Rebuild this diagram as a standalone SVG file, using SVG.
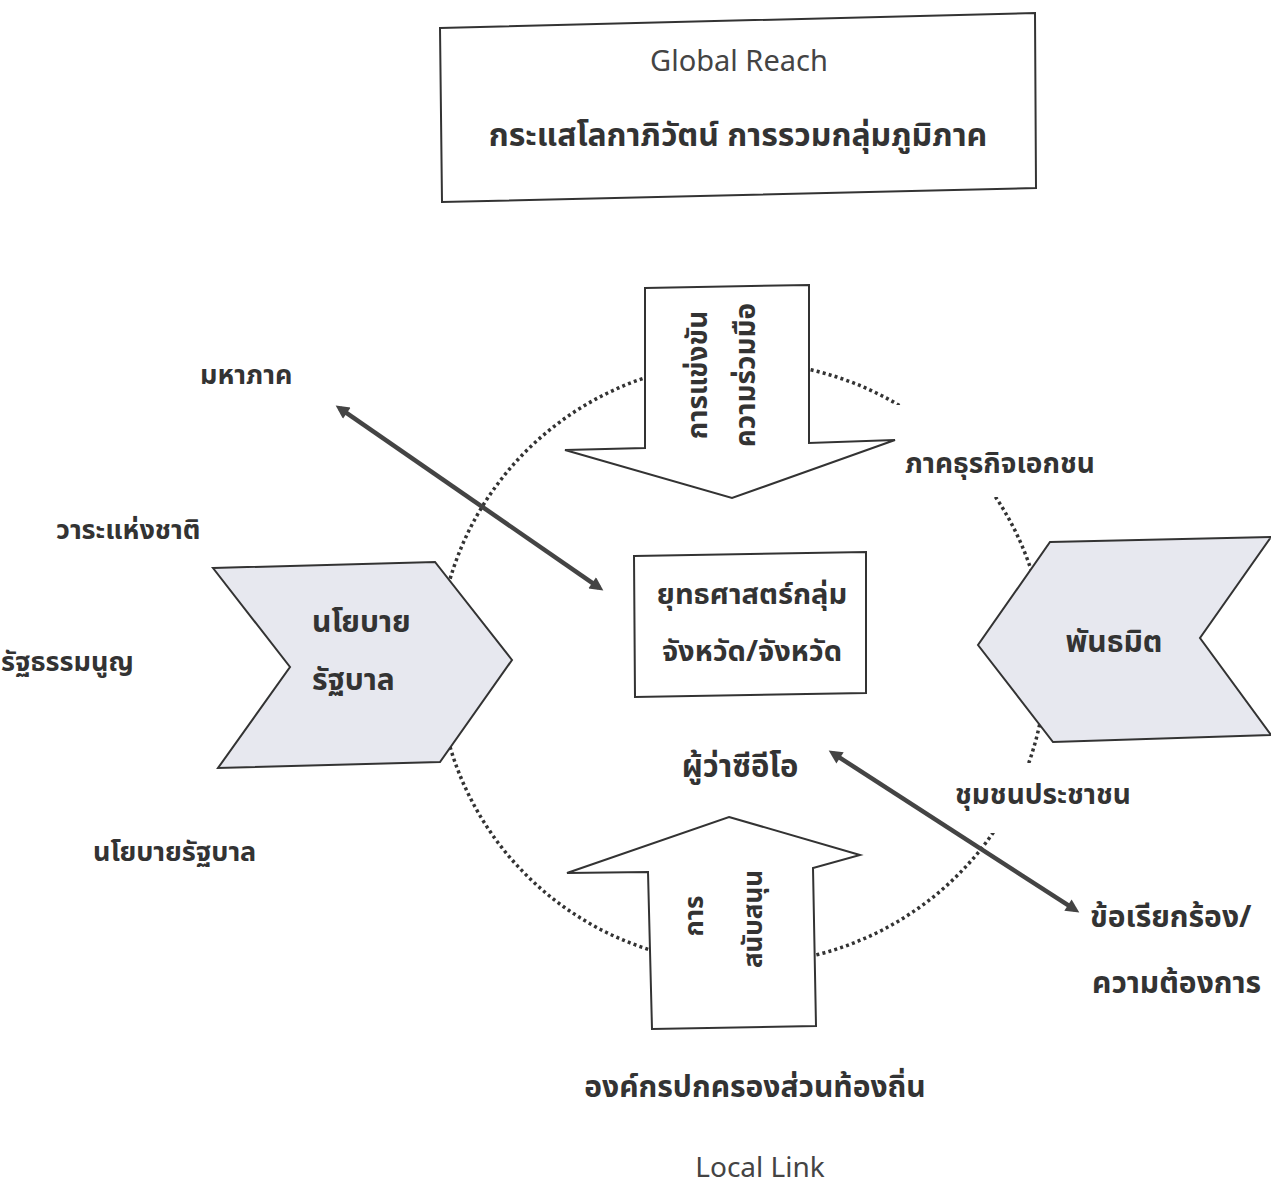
<svg xmlns="http://www.w3.org/2000/svg" width="1271" height="1186" viewBox="0 0 1271 1186">
<style>
.t{font-family:'Noto Sans Thai','Noto Sans Thai UI','Noto Sans','Liberation Sans',sans-serif;fill:#333;font-weight:700}
.n{font-family:'Noto Sans','Liberation Sans',sans-serif;fill:#444;font-weight:400}
.sh{stroke:#333;stroke-width:2;stroke-linejoin:miter}
.wf{fill:#fff}
.gf{fill:#e7e8ef}
.dot{fill:none;stroke:#333;stroke-width:3.5;stroke-dasharray:3 3.2}
.con{stroke:#444;stroke-width:4.5;fill:none}
</style>
<defs>
<marker id="ah" viewBox="0 0 10 10" refX="6.2" refY="5" markerWidth="3.5" markerHeight="3" orient="auto-start-reverse" markerUnits="strokeWidth">
<path d="M0,0 L10,5 L0,10 z" fill="#444"/>
</marker>
</defs>
<rect width="1271" height="1186" fill="#fff"/>

<g id="ring">
<ellipse class="dot" cx="742" cy="663" rx="304" ry="301"/>
<rect x="892" y="405" width="205" height="92" fill="#fff"/>
<rect x="945" y="763" width="195" height="70" fill="#fff"/>
</g>

<g id="global-reach">
<polygon class="sh wf" points="440,28 1035,13 1036,188 442,202"/>
<text class="n" x="739" y="71" font-size="29" text-anchor="middle">Global Reach</text>
<text class="t" x="738" y="146" font-size="32" text-anchor="middle" font-weight="600">กระแสโลกาภิวัตน์ การรวมกลุ่มภูมิภาค</text>
</g>

<g id="arrow-down">
<polygon class="sh wf" points="645,288 809,285 809,443 895,440 732,498 565,450 645,448"/>
<text class="t" transform="translate(707,375) rotate(-90)" font-size="28" text-anchor="middle" font-weight="500">การแข่งขัน</text>
<text class="t" transform="translate(755,375) rotate(-90)" font-size="28" text-anchor="middle" font-weight="500">ความร่วมมือ</text>
</g>

<g id="arrow-up">
<polygon class="sh wf" points="729,817 860,855 813,868 816,1026 652,1029 648,872 567,873"/>
<text class="t" transform="translate(703,916) rotate(-90)" font-size="26" text-anchor="middle" font-weight="500">การ</text>
<text class="t" transform="translate(762,919) rotate(-90)" font-size="26" text-anchor="middle" font-weight="500">สนับสนุน</text>
</g>

<g id="chevron-left">
<polygon class="sh gf" points="213,568 435,562 512,660 440,762 218,768 290,667"/>
<text class="t" x="312" y="632" font-size="30">นโยบาย</text>
<text class="t" x="312" y="690" font-size="30">รัฐบาล</text>
</g>

<g id="chevron-right">
<polygon class="sh gf" points="1050,542 1271,537 1200,638 1271,735 1053,742 978,645"/>
<text class="t" x="1114" y="652" font-size="30" text-anchor="middle">พันธมิต</text>
</g>

<g id="center-box">
<polygon class="sh wf" points="634,556 866,552 866,693 635,697"/>
<text class="t" x="752" y="604" font-size="29" text-anchor="middle">ยุทธศาสตร์กลุ่ม</text>
<text class="t" x="752" y="661" font-size="29" text-anchor="middle">จังหวัด/จังหวัด</text>
</g>

<g id="labels">
<text class="t" x="200" y="384" font-size="27">มหาภาค</text>
<text class="t" x="56" y="539" font-size="27">วาระแห่งชาติ</text>
<text class="t" x="1" y="671" font-size="27">รัฐธรรมนูญ</text>
<text class="t" x="93" y="861" font-size="27">นโยบายรัฐบาล</text>
<text class="t" x="905" y="473" font-size="28">ภาคธุรกิจเอกชน</text>
<text class="t" x="955" y="804" font-size="28">ชุมชนประชาชน</text>
<text class="t" x="740" y="777" font-size="31" text-anchor="middle" font-weight="600">ผู้ว่าซีอีโอ</text>
<text class="t" x="1090" y="927" font-size="30">ข้อเรียกร้อง/</text>
<text class="t" x="1092" y="993" font-size="30">ความต้องการ</text>
<text class="t" x="755" y="1097" font-size="30" text-anchor="middle">องค์กรปกครองส่วนท้องถิ่น</text>
<text class="n" x="760" y="1177" font-size="28" text-anchor="middle">Local Link</text>
</g>

<g id="connectors">
<line class="con" x1="339.9" y1="408.4" x2="599.1" y2="587.6" marker-start="url(#ah)" marker-end="url(#ah)"/>
<line class="con" x1="833" y1="753.3" x2="1075" y2="909.7" marker-start="url(#ah)" marker-end="url(#ah)"/>
</g>
</svg>
